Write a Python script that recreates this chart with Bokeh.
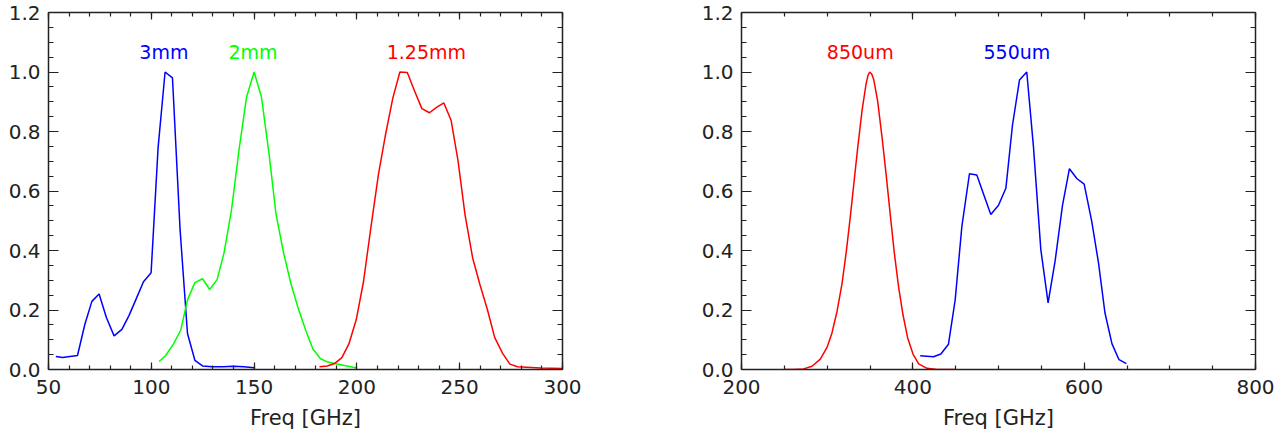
from bokeh.plotting import figure
from bokeh.layouts import row
from bokeh.models import Range1d, LinearAxis, SingleIntervalTicker, FixedTicker, PrintfTickFormatter, CustomJSTickFormatter
from bokeh.core.properties import value
from bokeh.embed import file_html
from bokeh.resources import INLINE

# ---- data: left panel (mm bands) ----
b3_f = [53.6, 56.8, 64.1, 67.7, 71.1, 74.6, 78.2, 81.9, 85.7, 89.2, 92.8, 96.2, 99.9, 103.3, 106.7,
        110.3, 114.0, 117.6, 121.2, 124.9, 129.7, 135.0, 139.9, 145.0, 150.0]
b3_v = [0.044, 0.040, 0.047, 0.152, 0.229, 0.254, 0.174, 0.113, 0.135, 0.182, 0.240, 0.295, 0.325, 0.745, 1.0,
        0.980, 0.47, 0.121, 0.031, 0.012, 0.009, 0.009, 0.011, 0.009, 0.006]

g2_f = [103.8, 107.0, 110.8, 114.3, 117.6, 121.2, 124.9, 128.4, 132.0, 135.4, 139.0, 142.7, 146.3, 150.0,
        153.6, 157.3, 160.6, 164.3, 167.9, 171.4, 175.2, 178.6, 182.3, 185.9, 189.1, 200.0]
g2_v = [0.027, 0.047, 0.086, 0.132, 0.234, 0.292, 0.305, 0.269, 0.302, 0.393, 0.536, 0.740, 0.915, 1.0,
        0.915, 0.723, 0.525, 0.393, 0.289, 0.207, 0.130, 0.069, 0.036, 0.025, 0.020, 0.005]

r125_f = [181.8, 185.6, 189.1, 192.7, 196.1, 199.7, 203.2, 207.0, 210.5, 213.9, 217.5, 220.9, 224.5, 228.0,
          231.6, 235.3, 238.9, 242.3, 245.8, 249.2, 252.6, 256.3, 259.9, 263.5, 267.0, 270.8, 274.4, 278.1,
          289.4, 300.0]
r125_v = [0.009, 0.012, 0.020, 0.040, 0.086, 0.168, 0.295, 0.487, 0.657, 0.789, 0.913, 1.0, 0.998, 0.937,
          0.877, 0.863, 0.882, 0.896, 0.838, 0.701, 0.520, 0.375, 0.284, 0.201, 0.108, 0.055, 0.018, 0.009,
          0.005, 0.003]

# ---- data: right panel (submm bands) ----
r850_f = [250.0, 260.9, 272.6, 282.3, 292.0, 299.8, 305.6, 311.5, 317.3, 322.4, 327.0, 330.9, 335.6, 340.7,
          345.3, 347.6, 349.6, 352.0, 354.3, 358.9, 364.0, 369.0, 373.7, 378.4, 383.4, 388.5, 393.9, 400.2,
          406.8, 416.5, 428.2, 450.0]
r850_v = [0.0, 0.0, 0.002, 0.011, 0.035, 0.074, 0.123, 0.195, 0.288, 0.398, 0.513, 0.618, 0.744, 0.870,
          0.958, 0.988, 1.0, 0.993, 0.975, 0.903, 0.782, 0.651, 0.519, 0.392, 0.277, 0.184, 0.107, 0.052,
          0.019, 0.004, 0.0, 0.0]

b550_f = [408.6, 424.1, 432.7, 441.6, 449.4, 457.2, 466.1, 474.7, 482.5, 491.0, 500.0, 508.6, 516.3, 524.5,
          533.0, 540.8, 549.4, 557.9, 566.1, 574.7, 582.8, 591.4, 600.0, 608.9, 616.7, 624.3, 632.5, 640.7, 649.3]
b550_v = [0.046, 0.043, 0.052, 0.085, 0.233, 0.480, 0.658, 0.654, 0.590, 0.521, 0.552, 0.609, 0.821, 0.973,
          1.0, 0.749, 0.403, 0.224, 0.365, 0.552, 0.675, 0.642, 0.623, 0.497, 0.359, 0.19, 0.086, 0.033, 0.020]

left_labels = ["3mm", "2mm", "1.25mm"]
left_label_x = [106.1, 149.5, 233.8]
right_labels = ["850um", "550um"]
right_label_x = [338.6, 521.5]
label_y = 1.067
x_title = "Freq [GHz]"
y_ticks = [0.0, 0.2, 0.4, 0.6, 0.8, 1.0, 1.2]
y_minor = [i * 0.05 for i in range(25)]

FONT = "DejaVu Sans"
AX = "#222222"
FS_TICK = "20px"
FS_LBL = "19px"


def style_axes(p, x_int, x_minor):
    blank = CustomJSTickFormatter(code="return ''")
    xb = p.xaxis[0]
    yl = p.yaxis[0]
    xt = LinearAxis(formatter=blank)
    yr = LinearAxis(formatter=blank)
    p.add_layout(xt, "above")
    p.add_layout(yr, "right")
    for ax in (xb, xt):
        ax.ticker = SingleIntervalTicker(interval=x_int, num_minor_ticks=x_minor)
        ax.major_tick_in = 7
        ax.major_tick_out = 0
        ax.minor_tick_in = 4
        ax.minor_tick_out = 0
    for ax in (yl, yr):
        ax.ticker = FixedTicker(ticks=y_ticks, minor_ticks=y_minor)
        ax.major_tick_in = 10
        ax.major_tick_out = 0
        ax.minor_tick_in = 5
        ax.minor_tick_out = 0
    for ax in (xb, xt, yl, yr):
        ax.axis_line_color = AX
        ax.axis_line_width = 1.5
        ax.major_tick_line_color = AX
        ax.minor_tick_line_color = AX
        ax.major_tick_line_width = 1.2
        ax.minor_tick_line_width = 1.2
        ax.major_label_text_font = FONT
        ax.major_label_text_font_size = FS_TICK
        ax.major_label_text_color = AX
    xt.major_label_standoff = 0
    yr.major_label_standoff = 0
    xb.formatter = PrintfTickFormatter(format="%d")
    yl.formatter = PrintfTickFormatter(format="%.1f")
    xb.major_label_standoff = 10
    yl.major_label_standoff = 8
    xb.axis_label = x_title
    xb.axis_label_text_font = FONT
    xb.axis_label_text_font_size = "21px"
    xb.axis_label_text_font_style = "normal"
    xb.axis_label_text_color = AX
    xb.axis_label_standoff = 9


def make_fig(xr, width, bl, br):
    p = figure(width=width, height=432, x_range=Range1d(*xr), y_range=Range1d(0, 1.2),
               output_backend="svg", toolbar_location=None,
               min_border_left=bl, min_border_right=br, min_border_top=12, min_border_bottom=63)
    p.grid.visible = False
    p.outline_line_color = None
    p.background_fill_color = "white"
    p.border_fill_color = "white"
    return p


p1 = make_fig((50, 300), 652, 48, 90)
style_axes(p1, 50, 5)
p1.line(b3_f, b3_v, line_color="#0000ff", line_width=1.5)
p1.line(g2_f, g2_v, line_color="#00ff00", line_width=1.5)
p1.line(r125_f, r125_v, line_color="#ff0000", line_width=1.5)
p1.text(x=left_label_x, y=[label_y] * 3, text=left_labels,
        text_color=["#0000ff", "#00ff00", "#ff0000"], text_align="center", text_baseline="alphabetic",
        text_font=value(FONT), text_font_size=FS_LBL)

p2 = make_fig((200, 800), 623, 89, 20)
style_axes(p2, 200, 4)
p2.line(r850_f, r850_v, line_color="#ff0000", line_width=1.5)
p2.line(b550_f, b550_v, line_color="#0000ff", line_width=1.5)
p2.text(x=right_label_x, y=[label_y] * 2, text=right_labels,
        text_color=["#ff0000", "#0000ff"], text_align="center", text_baseline="alphabetic",
        text_font=value(FONT), text_font_size=FS_LBL)

layout = row(p1, p2)
open("out.html", "w").write(file_html(layout, INLINE))
